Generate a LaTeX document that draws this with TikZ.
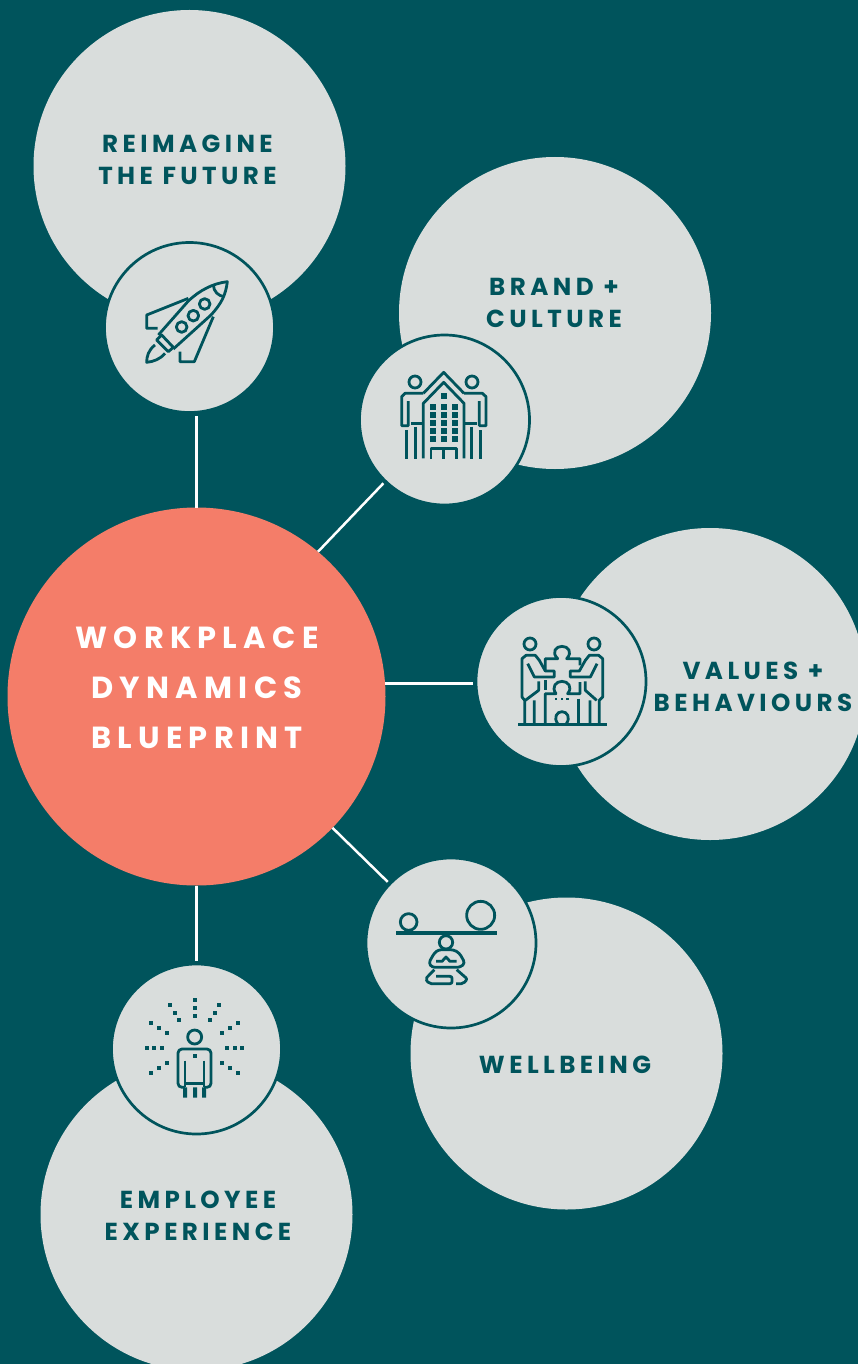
\documentclass[tikz,border=0pt]{standalone}
\usepackage{fontspec}
\setmainfont{Poppins}
\newfontfamily\lblfont[LetterSpace=18]{Poppins}
\newfontfamily\hubfont[LetterSpace=20.5]{Poppins}
\definecolor{deep}{HTML}{00545C}
\definecolor{pale}{HTML}{D9DDDC}
\definecolor{coral}{HTML}{F47D69}
\tikzset{
  bigc/.style={circle,fill=pale,minimum size=312pt,inner sep=0pt,outer sep=0pt},
  iconc/.style={circle,fill=pale,draw=deep,line width=2.7pt,minimum size=170pt,inner sep=0pt,outer sep=0pt},
  hubc/.style={circle,fill=coral,minimum size=378pt,inner sep=0pt,outer sep=0pt},
  lbl/.style={text=deep,align=center,font=\fontsize{24.6}{32}\selectfont\lblfont\bfseries,inner sep=0pt},
  hublbl/.style={text=white,align=center,font=\fontsize{30.5}{50}\selectfont\hubfont\bfseries,inner sep=0pt},
  link/.style={draw=white,line width=2.5pt},
  ic/.style={draw=deep,line width=2.8pt,line join=round,fill=none},
  icz/.style={x=0.33333pt,y=-0.33333pt}
}
\begin{document}
\begin{tikzpicture}[x=1pt,y=-1pt]
\clip (0,0) rectangle (858,1364);
\fill[deep] (0,0) rectangle (858,1364);
% big discs
\node[bigc] (b1) at (189.5,166) {};
\node[bigc] (b2) at (555,313) {};
\node[bigc] (b3) at (710,684) {};
\node[bigc] (b4) at (566.5,1053.5) {};
\node[bigc] (b5) at (196.5,1214.5) {};
% hub and icon discs
\node[hubc] (hub) at (196.5,696.5) {};
\node[iconc] (i1) at (189.5,327.5) {};
\node[iconc] (i2) at (444.5,420) {};
\node[iconc] (i3) at (561,681.5) {};
\node[iconc] (i4) at (451,943) {};
\node[iconc] (i5) at (196.5,1049) {};
% connectors
\draw[link,shorten >=3pt] (hub.north) -- (hub.north |- i1.south);
\draw[link,shorten >=3pt] (hub.50) -- (i2.226);
\draw[link,shorten >=3pt] (hub.4) -- (hub.4 -| i3.west);
\draw[link,shorten >=3pt] (hub.-44) -- (i4.136);
\draw[link,shorten >=3pt] (hub.south) -- (i5.north);
% labels
\node[lbl] (t1) at (187.5,159.5) {REIMAGINE\\THE FUTURE};
\node[lbl] (t2) at (554,303) {BRAND +\\CULTURE};
\node[lbl] (t3) at (753,687) {VALUES +\\BEHAVIOURS};
\node[lbl] (t4) at (565,1065) {WELLBEING};
\node[lbl] (t5) at (198,1216) {EMPLOYEE\\EXPERIENCE};
\node[hublbl] (t0) at (197,687.5) {WORKPLACE\\DYNAMICS\\BLUEPRINT};
% rocket
\begin{scope}[shift={(105,240)},icz]
\draw[ic] (160,285) -- (250,183) .. controls (285,150) and (325,130) .. (367,125) .. controls (362,165) and (350,190) .. (318,225) -- (205,327);
\draw[ic] (325,135) .. controls (326,155) and (340,168) .. (358,170);
\draw[ic] (230,261) circle[radius=16] (265,227) circle[radius=16] (299,192) circle[radius=16];
\draw[ic] (155,300) -- (190,335) -- (205,322) -- (170,285) -- cycle;
\draw[ic] (150,315) .. controls (130,330) and (125,350) .. (125,367) .. controls (145,365) and (165,358) .. (180,340);
\draw[ic] (250,175) -- (125,225) -- (125,265) -- (158,265);
\draw[ic] (325,230) -- (268,365) -- (225,365) -- (225,335);
\end{scope}
% building and two people
\begin{scope}[shift={(360,335)},icz]
\draw[ic] (165,141) circle[radius=18] (336,141) circle[radius=18];
\draw[ic] (190,175) -- (135,175) -- (125,185) -- (125,272) -- (145,272) -- (145,198);
\draw[ic] (312,175) -- (367,175) -- (378,185) -- (378,272) -- (358,272) -- (358,198);
\draw[ic] (190,175) -- (251,112) -- (312,175);
\draw[ic] (190,370) -- (190,205) -- (251,142) -- (312,205) -- (312,370);
\draw[ic] (153,265) -- (190,265) (312,265) -- (350,265);
\draw[ic] (140,285) -- (140,372) (167,275) -- (167,372) (335,275) -- (335,372) (361,285) -- (361,372);
\foreach \wx in {218,252,286} \foreach \wy in {216,240,264,288,312} \fill[deep] (\wx-9,\wy-9) rectangle (\wx+9,\wy+9);
\fill[deep] (243,174) rectangle (261,192);
\draw[ic] (213,372) -- (213,340) -- (290,340) -- (290,372) (250,345) -- (250,372);
\end{scope}
% puzzle and two people
\begin{scope}[shift={(476,597)},icz]
\draw[ic] (162,141) circle[radius=18] (354,141) circle[radius=18];
\draw[ic] (146,380) -- (146,310) -- (138,300) -- (138,185) -- (150,175) -- (178,175) -- (190,190) -- (208,222) -- (235,222) -- (235,240) -- (175,240) -- (155,200);
\draw[ic] (188,253) -- (188,280) -- (148,310) (175,310) -- (175,380);
\draw[ic] (370,380) -- (370,310) -- (380,300) -- (380,185) -- (368,175) -- (340,175) -- (328,190) -- (310,222) -- (283,222) -- (283,240) -- (343,240) -- (363,200);
\draw[ic] (328,253) -- (328,280) -- (362,310) (342,310) -- (342,380);
\draw[ic] (208,222) -- (208,185) -- (245,185) .. controls (225,165) and (240,148) .. (258,148) .. controls (276,148) and (291,165) .. (272,185) -- (312,185) -- (312,205);
\draw[ic] (208,250) -- (208,278);
\draw[ic] (208,380) -- (208,290) -- (240,290) .. controls (225,270) and (240,253) .. (258,253) .. controls (276,253) and (291,270) .. (275,290) -- (312,290) -- (312,255);
\draw[ic] (308,305) -- (308,380);
\foreach \dx in {240,258,275} \fill[deep] (\dx-4,304) rectangle (\dx+4,310);
\draw[ic] (245,380) .. controls (232,362) and (242,344) .. (258,344) .. controls (274,344) and (284,362) .. (271,380);
\draw[deep,line width=3pt] (127,382) -- (392,382);
\end{scope}
% balance and meditating figure
\begin{scope}[shift={(366,858)},icz]
\draw[ic] (128,192) circle[radius=25] (344,172) circle[radius=42];
\draw[deep,line width=4pt] (90,225) -- (393,225);
\draw[ic] (240,253) circle[radius=20];
\draw[ic,rounded corners=3pt] (218,275) -- (205,285) -- (188,315) -- (198,328) -- (283,328) -- (297,315) -- (280,285) -- (262,275) -- cycle;
\draw[ic] (210,310) -- (228,310) -- (240,297) -- (252,310) -- (272,310);
\draw[ic,rounded corners=2pt] (205,335) -- (178,363) -- (190,377) -- (258,377) -- (258,355) -- (210,355);
\draw[ic,rounded corners=2pt] (272,335) -- (304,363) -- (292,377) -- (270,377);
\end{scope}
% radiating person
\begin{scope}[shift={(112,964)},icz]
\foreach \sx/\sy in {249/108,249/132,249/156,174/123,189/147,201/168,321/123,309/147,294/168,117/177,141/192,165/207,378/177,354/192,330/207,105/252,126/252,150/252,345/252,369/252,390/252,165/297,141/312,117/327,330/297,354/312,378/327,249/276}
  \fill[deep] (\sx-6,\sy-6) rectangle (\sx+6,\sy+6);
\draw[ic] (248,219) circle[radius=21];
\draw[ic,rounded corners=4pt] (219,370) -- (198,370) -- (198,255) -- (297,255) -- (297,370) -- (276,370);
\draw[ic] (219,290) -- (219,370) (276,290) -- (276,370);
\draw[ic,line width=3.4pt] (219,358) -- (276,358);
\fill[deep] (213,370) rectangle (225,401) (243,370) rectangle (255,401) (270,370) rectangle (282,401);
\end{scope}
\end{tikzpicture}
\end{document}
